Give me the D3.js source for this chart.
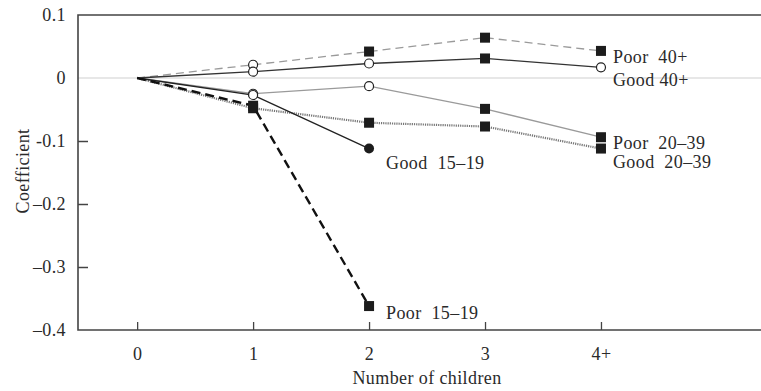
<!DOCTYPE html>
<html>
  <head>
    <meta charset="utf-8">
    <title>Coefficient by number of children</title>
    <script src="https://cdn.jsdelivr.net/npm/d3@7/dist/d3.min.js"></script>
    <style>
      body { margin: 0; background: #fff; }
      text { font-family: "Liberation Serif", "DejaVu Serif", serif; fill: #2a2a2a; letter-spacing: 0.4px; }
      .tick text { font-size: 18px; }
      .label { font-size: 18px; white-space: pre; }
    </style>
  </head>
  <body>
    <div id="chart"></div>
    <script>
      (function(d3) {
        'use strict';

        // data
        var categories = ['0', '1', '2', '3', '4+'];
        var yTickValues = [0.1, 0, -0.1, -0.2, -0.3, -0.4];
        var yTickLabels = ['0.1', '0', '-0.1', '\u20130.2', '\u20130.3', '\u20130.4'];

        var seriesNames = ['Poor  40+', 'Good 40+', 'Poor  20\u201339', 'Good  20\u201339', 'Good  15\u201319', 'Poor  15\u201319'];
        var poor40 = [0, 0.021, 0.042, 0.064, 0.043];
        var good40 = [0, 0.010, 0.023, 0.031, 0.017];
        var poor20 = [0, -0.025, -0.013, -0.049, -0.094];
        var good20 = [0, -0.048, -0.071, -0.077, -0.112];
        var good15 = [0, -0.027, -0.112];
        var poor15 = [0, -0.044, -0.362];
        // marker per point: s = filled square, o = open circle, d = filled dot, '' = none
        var poor40Marks = ['', 'o', 's', 's', 's'];
        var good40Marks = ['', 'o', 'o', 's', 'o'];
        var poor20Marks = ['', 'o', 'o', 's', 's'];
        var good20Marks = ['', 's', 's', 's', 's'];
        var good15Marks = ['', 'o', 'd'];
        var poor15Marks = ['', 's', 's'];

        var width = 761;
        var height = 391;
        var left = 78, top = 15, bottom = 330, right = 761;

        var styles = [
          { stroke: '#9a9a9a', width: 1.3, dash: '8,5', lx: 12, ly: 12 },
          { stroke: '#333', width: 1.3, dash: null, lx: 12, ly: 19 },
          { stroke: '#9a9a9a', width: 1.3, dash: null, lx: 12, ly: 12 },
          { stroke: '#777', width: 2.2, dash: '1.2,1', lx: 12, ly: 19 },
          { stroke: '#222', width: 1.3, dash: null, lx: 17, ly: 20 },
          { stroke: '#111', width: 2.4, dash: '9,5', lx: 17, ly: 13 }
        ];

        var allValues = [poor40, good40, poor20, good20, good15, poor15];
        var allMarks = [poor40Marks, good40Marks, poor20Marks, good20Marks, good15Marks, poor15Marks];
        var series = seriesNames.map(function(name, i) {
          return {
            name: name,
            style: styles[i],
            points: allValues[i].map(function(v, j) { return { x: j, y: v, m: allMarks[i][j] }; })
          };
        });

        var x = d3.scaleLinear().domain([-0.51, 5.38]).range([left, right]);
        var y = d3.scaleLinear().domain([-0.4, 0.1]).range([bottom, top]);

        var svg = d3.select('#chart')
          .append('svg')
          .attr('width', width)
          .attr('height', height);

        // zero reference line
        svg.append('line')
          .attr('x1', left).attr('x2', right)
          .attr('y1', y(0)).attr('y2', y(0))
          .attr('stroke', '#cfcfcf')
          .attr('stroke-width', 1.2);

        var yAxis = svg.append('g')
          .attr('transform', 'translate(' + left + ',0)')
          .call(d3.axisLeft(y)
            .tickValues(yTickValues)
            .tickSize(-10)
            .tickPadding(12)
            .tickFormat(function(d, i) { return yTickLabels[i]; }));
        yAxis.select('.domain').remove();
        yAxis.selectAll('.tick line')
          .attr('stroke', '#444')
          .attr('stroke-width', 1.5)
          .style('display', function(d) { return (d === 0 || d === 0.1 || d === -0.4) ? 'none' : null; });

        var xAxis = svg.append('g')
          .attr('transform', 'translate(0,' + bottom + ')')
          .call(d3.axisBottom(x)
            .tickValues(d3.range(categories.length))
            .tickSize(-8)
            .tickPadding(17)
            .tickFormat(function(d) { return categories[d]; }));
        xAxis.select('.domain').remove();
        xAxis.selectAll('.tick line').attr('stroke', '#444').attr('stroke-width', 1.3);

        // frame: top, left, bottom
        svg.append('path')
          .attr('d', 'M' + right + ',' + top + 'H' + left + 'V' + bottom + 'H' + right)
          .attr('fill', 'none')
          .attr('stroke', '#444')
          .attr('stroke-width', 1.6);

        svg.append('text')
          .attr('x', x(2.5))
          .attr('y', 384)
          .attr('text-anchor', 'middle')
          .style('font-size', '18px')
          .text('Number of children');

        svg.append('text')
          .attr('transform', 'translate(29,171) rotate(-90)')
          .attr('text-anchor', 'middle')
          .style('font-size', '18px')
          .text('Coefficient');

        var line = d3.line()
          .x(function(d) { return x(d.x); })
          .y(function(d) { return y(d.y); });

        var g = svg.selectAll('.series')
          .data(series)
          .enter().append('g')
          .attr('class', 'series');

        g.append('path')
          .attr('d', function(d) { return line(d.points); })
          .attr('fill', 'none')
          .attr('stroke', function(d) { return d.style.stroke; })
          .attr('stroke-width', function(d) { return d.style.width; })
          .attr('stroke-dasharray', function(d) { return d.style.dash; });

        g.each(function(s) {
          var sel = d3.select(this);
          s.points.forEach(function(p) {
            if (p.m === 's') {
              sel.append('rect')
                .attr('x', x(p.x) - 5).attr('y', y(p.y) - 5)
                .attr('width', 10).attr('height', 10)
                .attr('fill', '#1c1c1c');
            } else if (p.m === 'o') {
              sel.append('circle')
                .attr('cx', x(p.x)).attr('cy', y(p.y)).attr('r', 4.5)
                .attr('fill', '#fff')
                .attr('stroke', '#222')
                .attr('stroke-width', 1.2);
            } else if (p.m === 'd') {
              sel.append('circle')
                .attr('cx', x(p.x)).attr('cy', y(p.y)).attr('r', 5)
                .attr('fill', '#1c1c1c');
            }
          });
          var last = s.points[s.points.length - 1];
          sel.append('text')
            .attr('class', 'label')
            .attr('x', x(last.x) + s.style.lx)
            .attr('y', y(last.y) + s.style.ly)
            .text(s.name);
        });

      })(window.d3);
    </script>
  </body>
</html>
